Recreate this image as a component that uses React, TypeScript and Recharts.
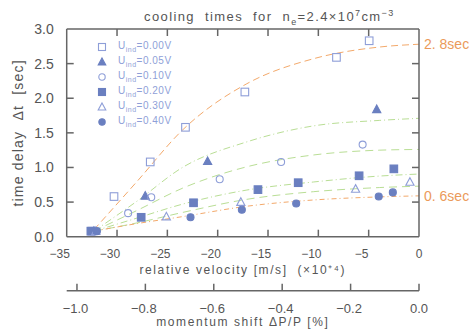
import { ComposedChart, Line, Scatter, XAxis, YAxis, ReferenceLine, Legend } from 'recharts'

const velocityTicks = [-35, -30, -25, -20, -15, -10, -5, 0]
const innerVelocityTicks = [-30, -25, -20, -15, -10, -5]
const momentumTicks = [-1.0, -0.8, -0.6, -0.4, -0.2, 0.0]
const delayTicks = [0, 0.5, 1, 1.5, 2, 2.5, 3]
const innerDelayTicks = [0.5, 1, 1.5, 2, 2.5]

// measured cooling times: x = relative velocity (x10^4 m/s), y = time delay (sec)
const u000 = [
  { x: -32.5, y: 0.08 }, { x: -30.3, y: 0.58 }, { x: -26.7, y: 1.08 }, { x: -23.2, y: 1.58 },
  { x: -17.3, y: 2.09 }, { x: -8.2, y: 2.59 }, { x: -4.95, y: 2.83 },
]
const u005 = [{ x: -32.3, y: 0.08 }, { x: -27.2, y: 0.59 }, { x: -21.0, y: 1.09 }, { x: -4.2, y: 1.84 }]
const u010 = [
  { x: -32.2, y: 0.08 }, { x: -28.9, y: 0.34 }, { x: -26.6, y: 0.57 }, { x: -19.8, y: 0.83 },
  { x: -13.7, y: 1.08 }, { x: -5.6, y: 1.33 },
]
const u020 = [
  { x: -32.6, y: 0.08 }, { x: -27.6, y: 0.28 }, { x: -22.4, y: 0.49 }, { x: -16.0, y: 0.68 },
  { x: -12.0, y: 0.78 }, { x: -5.95, y: 0.88 }, { x: -2.5, y: 0.98 },
]
const u030 = [{ x: -32.1, y: 0.08 }, { x: -25.1, y: 0.29 }, { x: -17.7, y: 0.5 }, { x: -6.3, y: 0.69 }, { x: -0.9, y: 0.79 }]
const u040 = [
  { x: -32.0, y: 0.08 }, { x: -22.7, y: 0.28 }, { x: -17.6, y: 0.39 }, { x: -12.2, y: 0.48 },
  { x: -4.0, y: 0.58 }, { x: -2.6, y: 0.64 },
]

const fitX = [-32.3, -28, -23.5, -17.1, -10.5, -3.9, 0]
const fitA = [0.1, 0.8, 1.54, 2.21, 2.57, 2.74, 2.78]
const fitB = [0.08, 0.515, 1.0, 1.37, 1.6, 1.68, 1.71]
const fitC = [0.08, 0.38, 0.7, 1.01, 1.18, 1.25, 1.26]
const fitD = [0.08, 0.27, 0.47, 0.674, 0.79, 0.876, 0.905]
const fitE = [0.08, 0.2, 0.35, 0.54, 0.65, 0.71, 0.73]
const fitF = [0.08, 0.19, 0.29, 0.44, 0.53, 0.575, 0.59]

const toPts = (ys: number[]) => fitX.map((x, i) => ({ x, y: ys[i] }))
// invisible anchors so the frame axes (top, right, momentum) get a domain and ticks
const anchorPts = (xs: number[]) => xs.map((x) => ({ x, y: 1.5 }))

const ORANGE = '#f3a96b'
const GREEN = '#b9de95'
const OPEN = '#8e9ed8'
const FILLED = '#6a7fc0'
const AXIS = '#666'
const TEXT = '#555'
const FONT = '"Liberation Sans", Arial, sans-serif'
const TICK = 7
const TICK_W = 1.5

type Kind = 'sq' | 'tri' | 'circ'
const series = [
  { name: '0.00', data: u000, kind: 'sq' as Kind, filled: false },
  { name: '0.05', data: u005, kind: 'tri' as Kind, filled: true },
  { name: '0.10', data: u010, kind: 'circ' as Kind, filled: false },
  { name: '0.20', data: u020, kind: 'sq' as Kind, filled: true },
  { name: '0.30', data: u030, kind: 'tri' as Kind, filled: false },
  { name: '0.40', data: u040, kind: 'circ' as Kind, filled: true },
]

function Marker({ cx, cy, kind, filled, s = 7.6 }: { cx: number; cy: number; kind: Kind; filled: boolean; s?: number }) {
  const fill = filled ? FILLED : 'none'
  const stroke = filled ? FILLED : OPEN
  const h = s / 2
  if (kind === 'sq') return <rect x={cx - h} y={cy - h} width={s} height={s} fill={fill} stroke={stroke} strokeWidth={1.1} />
  if (kind === 'circ') return <circle cx={cx} cy={cy} r={h - 0.3} fill={fill} stroke={stroke} strokeWidth={1.1} />
  return (
    <polygon
      points={`${cx},${cy - h - 0.5} ${cx + h + 0.3},${cy + h - 0.5} ${cx - h - 0.3},${cy + h - 0.5}`}
      fill={fill}
      stroke={stroke}
      strokeWidth={1.1}
    />
  )
}

// inward frame ticks drawn as tiny scatter shapes sitting on the frame edges
const tickShape = (dx: number, dy: number) => (p: any) => (
  <line x1={p.cx} y1={p.cy} x2={p.cx + dx} y2={p.cy + dy} stroke={AXIS} strokeWidth={TICK_W} />
)
const bottomTicks = innerVelocityTicks.map((x) => ({ x, y: 0 }))
const topTicks = innerVelocityTicks.map((x) => ({ x, y: 3 }))
const leftTicks = innerDelayTicks.map((y) => ({ x: -35, y }))
const rightTicks = innerDelayTicks.map((y) => ({ x: 0, y }))

const minus = (v: number, digits: number) => (v < 0 ? `\u2212${Math.abs(v).toFixed(digits)}` : v.toFixed(digits))

const VelTick = ({ x, y, payload }: any) => (
  <text x={+x - (payload.value < 0 ? 7 : 0)} y={+y + 12.6} dy="0.71em" textAnchor="middle" fontSize={12} fill={TEXT} fontFamily={FONT}>
    {minus(payload.value, 0)}
  </text>
)

const MomTick = ({ x, y, payload }: any) => (
  <g>
    <line x1={+x} x2={+x} y1={+y} y2={+y - TICK} stroke={AXIS} strokeWidth={TICK_W} />
    <text x={+x - (payload.value < 0 ? 1.5 : 0)} y={+y + 12.6} dy="0.71em" textAnchor="middle" fontSize={13} fill={TEXT} fontFamily={FONT}>
      {minus(payload.value, 1)}
    </text>
  </g>
)

const LeftTick = ({ x, y, payload }: any) => (
  <text x={+x - 13} y={+y} dy="0.355em" textAnchor="end" fontSize={14} fill={TEXT} fontFamily={FONT}>
    {payload.value.toFixed(1)}
  </text>
)

const renderLegend = () => (
  <div style={{ fontFamily: FONT, fontSize: 10, color: '#8f9fd8', letterSpacing: 0.5 }}>
    {series.map((s) => (
      <div key={s.name} style={{ height: 15, display: 'flex', alignItems: 'center', whiteSpace: 'nowrap' }}>
        <svg width={12} height={12} style={{ marginRight: 10 }}>
          <Marker cx={6} cy={6} kind={s.kind} filled={s.filled} s={7} />
        </svg>
        <span>
          U<sub style={{ fontSize: 7 }}>ind</sub>={s.name}V
        </span>
      </div>
    ))}
  </div>
)

const hidden = { stroke: 'none', dot: false, legendType: 'none' as const, isAnimationActive: false }
const axisLine = { stroke: AXIS, strokeWidth: 1.5 }
const tickSeries = { xAxisId: 'a_vel', yAxisId: 't', dataKey: 'y', legendType: 'none' as const, isAnimationActive: false }

export default function App() {
  return (
    <div style={{ position: 'absolute', left: 0, top: 0, width: 469, height: 335, background: '#fff' }}>
      <div
        style={{
          position: 'absolute',
          left: 144,
          top: 8,
          fontFamily: FONT,
          fontSize: 13,
          letterSpacing: 1.4,
          color: TEXT,
          whiteSpace: 'nowrap',
          zIndex: 2,
        }}
      >
        cooling&nbsp; times&nbsp; for&nbsp; n<sub style={{ fontSize: 9 }}>e</sub>=2.4×10<sup style={{ fontSize: 9 }}>7</sup>cm
        <sup style={{ fontSize: 9 }}>−3</sup>
      </div>
      <ComposedChart width={469} height={335} margin={{ top: 0, right: 0, bottom: 0, left: 0 }}>
        <XAxis
          xAxisId="a_vel"
          dataKey="x"
          type="number"
          domain={[-35, 0]}
          ticks={velocityTicks}
          height={54}
          tickSize={0}
          tickMargin={0}
          axisLine={axisLine}
          tickLine={false}
          tick={<VelTick />}
          label={{
            value: 'relative velocity [m/s]\u00a0\u00a0(×10⁺⁴)',
            position: 'insideBottom',
            offset: 17,
            fontSize: 12,
            fill: TEXT,
            fontFamily: FONT,
            letterSpacing: 1.6,
          }}
        />
        <XAxis
          xAxisId="b_mom"
          dataKey="x"
          type="number"
          domain={[-1.03, 0]}
          ticks={momentumTicks}
          height={44.3}
          tickSize={0}
          tickMargin={0}
          axisLine={axisLine}
          tickLine={false}
          tick={<MomTick />}
          label={{
            value: 'momentum shift ΔP/P [%]',
            position: 'insideBottom',
            offset: 9,
            fontSize: 12,
            fill: TEXT,
            fontFamily: FONT,
            letterSpacing: 1.6,
          }}
        />
        <XAxis
          xAxisId="c_top"
          dataKey="x"
          orientation="top"
          type="number"
          domain={[-35, 0]}
          ticks={innerVelocityTicks}
          height={29}
          axisLine={axisLine}
          tickLine={false}
          tick={false}
        />
        <YAxis
          yAxisId="t"
          dataKey="y"
          type="number"
          domain={[0, 3]}
          ticks={delayTicks}
          width={66.7}
          tickSize={0}
          tickMargin={0}
          axisLine={axisLine}
          tickLine={false}
          tick={<LeftTick />}
          label={{
            value: 'time delay\u00a0\u00a0Δt\u00a0\u00a0[sec]',
            angle: -90,
            position: 'insideLeft',
            offset: 18,
            fontSize: 14,
            fill: TEXT,
            fontFamily: FONT,
            letterSpacing: 1.2,
            style: { textAnchor: 'middle' },
          }}
        />
        <YAxis
          yAxisId="r"
          dataKey="y"
          orientation="right"
          type="number"
          domain={[0, 3]}
          ticks={innerDelayTicks}
          width={50}
          axisLine={axisLine}
          tickLine={false}
          tick={false}
        />
        <Legend
          layout="vertical"
          align="center"
          verticalAlign="middle"
          content={renderLegend}
          wrapperStyle={{ left: 96, top: 39, width: 'auto', height: 'auto' }}
        />

        <Line xAxisId="c_top" yAxisId="r" data={anchorPts(innerVelocityTicks)} dataKey="y" {...hidden} />
        <Line xAxisId="b_mom" yAxisId="r" data={anchorPts(momentumTicks)} dataKey="y" {...hidden} />

        <Scatter {...tickSeries} data={bottomTicks} shape={tickShape(0, -TICK)} />
        <Scatter {...tickSeries} data={topTicks} shape={tickShape(0, TICK)} />
        <Scatter {...tickSeries} data={leftTicks} shape={tickShape(TICK, 0)} />
        <Scatter {...tickSeries} data={rightTicks} shape={tickShape(-TICK, 0)} />

        <Line xAxisId="a_vel" yAxisId="t" data={toPts(fitA)} dataKey="y" type="monotone" stroke={ORANGE} strokeWidth={1} strokeDasharray="7 4" dot={false} legendType="none" isAnimationActive={false} />
        <Line xAxisId="a_vel" yAxisId="t" data={toPts(fitB)} dataKey="y" type="monotone" stroke={GREEN} strokeWidth={1} strokeDasharray="7 3 1 3" dot={false} legendType="none" isAnimationActive={false} />
        <Line xAxisId="a_vel" yAxisId="t" data={toPts(fitC)} dataKey="y" type="monotone" stroke={GREEN} strokeWidth={1} strokeDasharray="8 5" dot={false} legendType="none" isAnimationActive={false} />
        <Line xAxisId="a_vel" yAxisId="t" data={toPts(fitD)} dataKey="y" type="monotone" stroke={GREEN} strokeWidth={1} strokeDasharray="7 3 1 3" dot={false} legendType="none" isAnimationActive={false} />
        <Line xAxisId="a_vel" yAxisId="t" data={toPts(fitE)} dataKey="y" type="monotone" stroke={GREEN} strokeWidth={1} strokeDasharray="8 5" dot={false} legendType="none" isAnimationActive={false} />
        <Line xAxisId="a_vel" yAxisId="t" data={toPts(fitF)} dataKey="y" type="monotone" stroke={ORANGE} strokeWidth={1} strokeDasharray="5 3 1 3" dot={false} legendType="none" isAnimationActive={false} />

        {series.map((s) => (
          <Scatter
            key={s.name}
            name={`U_ind=${s.name}V`}
            xAxisId="a_vel"
            yAxisId="t"
            data={s.data}
            dataKey="y"
            isAnimationActive={false}
            shape={(p: any) => <Marker cx={p.cx} cy={p.cy} kind={s.kind} filled={s.filled} />}
          />
        ))}

        <ReferenceLine
          xAxisId="a_vel"
          yAxisId="t"
          y={2.78}
          stroke="none"
          label={{ value: '2. 8sec', position: 'right', offset: 5, fill: '#eb9a5a', fontSize: 14, fontFamily: FONT }}
        />
        <ReferenceLine
          xAxisId="a_vel"
          yAxisId="t"
          y={0.59}
          stroke="none"
          label={{ value: '0. 6sec', position: 'right', offset: 5, fill: '#eb9a5a', fontSize: 14, fontFamily: FONT }}
        />
      </ComposedChart>
    </div>
  )
}
